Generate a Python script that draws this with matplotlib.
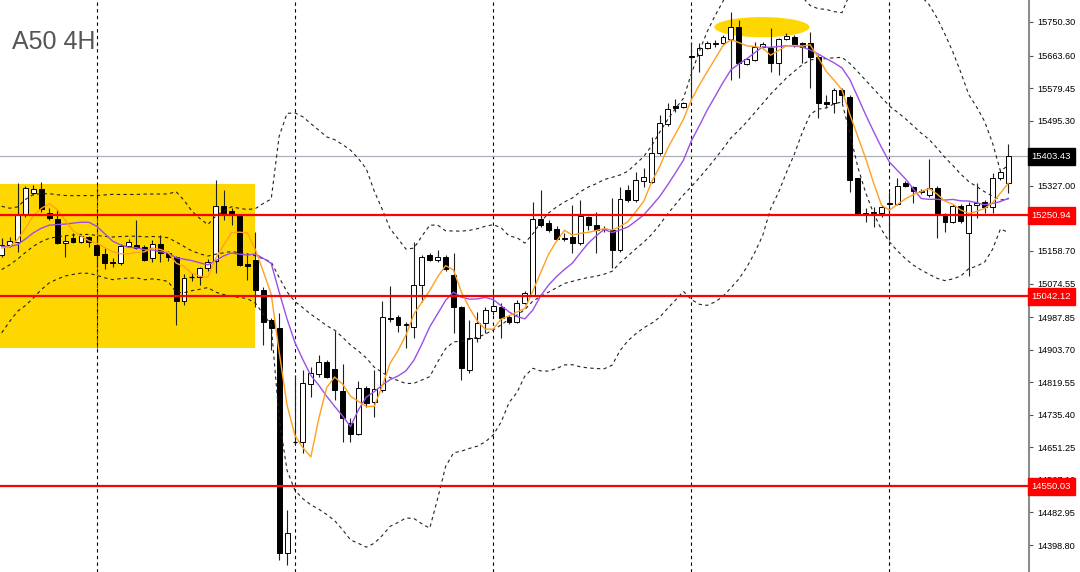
import numpy as np
import pandas as pd
import matplotlib
matplotlib.use("Agg")
import matplotlib.pyplot as plt
from matplotlib.patches import Rectangle, Ellipse

# A50 4H candles
opens = [15148, 15174, 15182, 15252, 15308, 15319, 15257, 15241, 15179, 15192,
         15182, 15195, 15174, 15151, 15130, 15128, 15171, 15174, 15169, 15140,
         15177, 15153, 15143, 15029, 15091, 15091, 15115, 15133, 15275, 15262,
         15252, 15125, 15135, 15058, 14980, 14960, 14378, 14665, 14665, 14815,
         14841, 14872, 14854, 14797, 14714, 14686, 14805, 14768, 14799, 14985,
         14988, 14970, 14962, 15071, 15148, 15135, 15143, 15097, 15014, 14851,
         14934, 14972, 15004, 15014, 14988, 14975, 15024, 15045, 15241, 15231,
         15215, 15192, 15195, 15179, 15246, 15226, 15215, 15213, 15161, 15316,
         15290, 15339, 15337, 15412, 15487, 15533, 15531, 15662, 15665, 15683,
         15693, 15696, 15706, 15737, 15642, 15652, 15686, 15683, 15644, 15706,
         15712, 15696, 15696, 15660, 15544, 15541, 15575, 15556, 15347, 15257,
         15257, 15257, 15280, 15280, 15334, 15324, 15314, 15303, 15321, 15252,
         15233, 15275, 15205, 15277, 15285, 15272, 15347, 15334]
highs = [15192, 15195, 15334, 15326, 15329, 15337, 15270, 15264, 15200, 15205,
         15200, 15197, 15192, 15166, 15140, 15177, 15190, 15239, 15174, 15187,
         15200, 15159, 15146, 15099, 15102, 15117, 15138, 15342, 15316, 15270,
         15254, 15153, 15208, 15066, 14985, 14998, 14489, 14838, 14851, 14859,
         14890, 14877, 14952, 14867, 14727, 14823, 14810, 14851, 15029, 15068,
         14993, 14975, 15182, 15148, 15153, 15161, 15148, 15153, 15016, 14980,
         15001, 15014, 15058, 15024, 14993, 15032, 15055, 15285, 15316, 15239,
         15223, 15205, 15277, 15290, 15249, 15259, 15223, 15295, 15324, 15329,
         15363, 15373, 15453, 15510, 15541, 15551, 15544, 15696, 15696, 15701,
         15704, 15717, 15776, 15755, 15657, 15699, 15699, 15735, 15709, 15722,
         15717, 15699, 15724, 15665, 15562, 15580, 15580, 15562, 15347, 15270,
         15272, 15277, 15311, 15347, 15339, 15326, 15319, 15396, 15326, 15257,
         15280, 15280, 15285, 15334, 15290, 15360, 15368, 15435]
lows = [15143, 15169, 15156, 15246, 15303, 15259, 15239, 15177, 15143, 15179,
        15179, 15169, 15117, 15112, 15117, 15122, 15169, 15164, 15133, 15130,
        15130, 15133, 14967, 15019, 15081, 15071, 15107, 15102, 15239, 15226,
        15120, 15084, 15014, 14916, 14903, 14360, 14347, 14660, 14637, 14781,
        14833, 14830, 14774, 14665, 14665, 14683, 14755, 14730, 14794, 14975,
        14949, 14908, 14934, 15027, 15133, 15130, 15107, 14947, 14825, 14843,
        14923, 14947, 14993, 14934, 14970, 14972, 15022, 15042, 15221, 15208,
        15187, 15184, 15153, 15174, 15213, 15153, 15208, 15115, 15156, 15285,
        15285, 15324, 15334, 15407, 15482, 15518, 15528, 15549, 15621, 15680,
        15686, 15691, 15600, 15606, 15639, 15649, 15680, 15621, 15613, 15704,
        15686, 15644, 15580, 15502, 15528, 15515, 15541, 15311, 15252, 15233,
        15221, 15246, 15187, 15277, 15324, 15283, 15306, 15298, 15192, 15208,
        15231, 15231, 15094, 15244, 15257, 15257, 15342, 15308]
closes = [15174, 15184, 15252, 15321, 15319, 15267, 15244, 15179, 15184, 15182,
          15197, 15182, 15148, 15128, 15128, 15171, 15182, 15166, 15135, 15177,
          15153, 15143, 15029, 15089, 15091, 15115, 15130, 15275, 15257, 15252,
          15122, 15120, 15058, 14975, 14960, 14378, 14430, 14665, 14817, 14843,
          14872, 14833, 14799, 14727, 14686, 14805, 14766, 14802, 14988, 14983,
          14967, 14967, 15071, 15143, 15135, 15143, 15112, 15014, 14856, 14934,
          14972, 15006, 15016, 14985, 14975, 15024, 15050, 15241, 15226, 15213,
          15190, 15190, 15179, 15249, 15226, 15213, 15215, 15161, 15293, 15290,
          15342, 15350, 15412, 15489, 15525, 15528, 15541, 15660, 15683, 15696,
          15696, 15712, 15737, 15644, 15655, 15686, 15693, 15644, 15706, 15714,
          15691, 15686, 15660, 15541, 15538, 15575, 15562, 15342, 15254, 15254,
          15259, 15272, 15283, 15326, 15326, 15314, 15311, 15321, 15257, 15233,
          15275, 15236, 15277, 15283, 15272, 15347, 15363, 15403.43]

# closes before the visible window, only needed to warm up the indicators
prev_closes = [14941, 14954, 14980, 14993, 15032, 15071, 15109, 15122, 15148, 15161,
               15187, 15200, 15174, 15161, 15148, 15166, 15161, 15174, 15156]

levels = [15250.94, 15042.12, 14550.03]
last_price = 15403.43
tick_vals = [15750.30, 15663.60, 15579.45, 15495.30, 15411.15, 15327.00, 15242.85,
             15158.70, 15074.55, 14987.85, 14903.70, 14819.55, 14735.40, 14651.25,
             14567.10, 14482.95, 14398.80]
separators = [12, 37, 62, 87, 112]

# highlighted zones
box_x = (-1, 31.96)
box_y = (14908, 15332)
ell_center = (95.9, 15737)
ell_size = (12.0, 52)

n = len(closes)
x = np.arange(n)
o = np.array(opens, float)
h = np.array(highs, float)
l = np.array(lows, float)
c = np.array(closes, float)

allc = pd.Series(prev_closes + closes, dtype=float)
ma5 = allc.rolling(5).mean().values[-n:]
ma10 = allc.rolling(10).mean().values[-n:]
mid = allc.rolling(20).mean()
sd = allc.rolling(20).std(ddof=0)
bb_up = (mid + 2 * sd).values[-n:]
bb_lo = (mid - 2 * sd).values[-n:]
bb_mid = mid.values[-n:]

fig = plt.figure(figsize=(10.8, 5.72), dpi=100)
ax = fig.add_axes([0, 0, 1029 / 1080, 1])
ax.set_xlim(-0.2145, 129.6)
ax.set_ylim(14329.1, 15807.1)

ax.add_patch(Rectangle((box_x[0], box_y[0]), box_x[1] - box_x[0], box_y[1] - box_y[0],
                       fc="#ffd700", ec="none", zorder=1))
ax.add_patch(Ellipse(ell_center, ell_size[0], ell_size[1], fc="#ffd700", ec="none", zorder=1))

for s in separators:
    ax.axvline(s, color="black", lw=0.8, ls=(0, (3, 3)), zorder=2)
ax.vlines(separators[0], box_y[0], box_y[1], color="#2040ff", lw=0.8, ls=(0, (3, 3)), zorder=2.1)

ax.axhline(last_price, color="#aab0b8", lw=0.9, zorder=2)
for lv in levels:
    ax.axhline(lv, color="#ff0000", lw=1.6, zorder=6)

# candles
ax.vlines(x, l, h, color="#202020", lw=0.8, zorder=3)
width = 0.62
bull = c > o
bear = c < o
doji = np.abs(c - o) < 1.5
bull &= ~doji
bear &= ~doji
ax.bar(x[bull], (c - o)[bull], bottom=o[bull], width=width, fc="white", ec="black", lw=0.7, zorder=4)
ax.bar(x[bear], (o - c)[bear], bottom=c[bear], width=width, fc="black", ec="black", lw=0.7, zorder=4)
ax.hlines(c[doji], x[doji] - width / 2, x[doji] + width / 2, color="black", lw=0.9, zorder=4)

# indicators
dash = (0, (3, 3))
ax.plot(x, bb_up, color="#222222", lw=0.8, ls=dash, zorder=5)
ax.plot(x, bb_mid, color="#222222", lw=0.8, ls=dash, zorder=5)
ax.plot(x, bb_lo, color="#222222", lw=0.8, ls=dash, zorder=5)
ax.plot(x, ma10, color="#9a50e8", lw=1.0, zorder=5)
ax.plot(x, ma5, color="#ffa020", lw=1.0, zorder=5)

# axes look
for sp in ["top", "left", "bottom"]:
    ax.spines[sp].set_visible(False)
ax.spines["right"].set_color("#8c8c8c")
ax.spines["right"].set_linewidth(1.5)
ax.set_xticks([])
ax.yaxis.tick_right()
ax.set_yticks(tick_vals)
ax.set_yticklabels([f"{v:.2f}" for v in tick_vals])
ax.tick_params(axis="y", direction="out", length=3, width=0.8, color="#555555", pad=3,
               labelsize=6.6, labelcolor="black")
for t in ax.get_yticklabels():
    t.set_fontfamily("Liberation Sans")

tr = ax.get_yaxis_transform()
ax.text(1.0025, last_price, f"{last_price:.2f}", transform=tr, ha="left", va="center",
        fontsize=6.8, family="Liberation Sans", color="white", clip_on=False, zorder=10,
        bbox=dict(boxstyle="square,pad=0.42", fc="black", ec="black"))
for lv in levels:
    ax.text(1.0025, lv, f"{lv:.2f}", transform=tr, ha="left", va="center",
            fontsize=6.8, family="Liberation Sans", color="white", clip_on=False, zorder=10,
            bbox=dict(boxstyle="square,pad=0.42", fc="#ff0000", ec="#ff0000"))

ax.text(12 / 1029, 1 - 42 / 572, "A50 4H", transform=ax.transAxes, ha="left", va="center",
        fontsize=18, family="Liberation Sans", color="#555555", zorder=10)

fig.savefig("out.png", dpi=100)
